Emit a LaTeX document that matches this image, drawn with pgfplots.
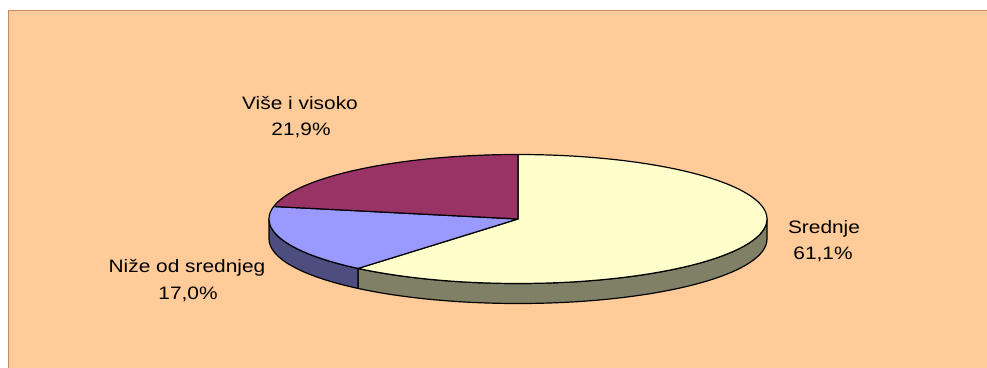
\documentclass[border=0pt]{standalone}
\usepackage{pgfplots}
\pgfplotsset{compat=1.18}
\usepackage{pgfplotstable}
\usepackage{graphicx}
\usepackage{fontspec}
\setmainfont{Liberation Sans}
\definecolor{bgpeach}{HTML}{FFCC99}
\definecolor{bordr}{HTML}{C8896A}
\definecolor{sredtop}{HTML}{FFFFCC}
\definecolor{sredside}{HTML}{808066}
\definecolor{nizetop}{HTML}{9999FF}
\definecolor{nizeside}{HTML}{4D4D80}
\definecolor{visetop}{HTML}{993366}

% shares in percent: Srednje, Nize od srednjeg, Vise i visoko
\pgfplotstableread{
share
61.1
17.0
21.9
}\piedata
\pgfplotstablegetelem{0}{share}\of\piedata \let\vA\pgfplotsretval
\pgfplotstablegetelem{1}{share}\of\piedata \let\vB\pgfplotsretval
\pgfplotstablegetelem{2}{share}\of\piedata \let\vC\pgfplotsretval
\pgfmathsetmacro{\aA}{90-3.6*\vA}
\pgfmathsetmacro{\aB}{\aA-3.6*\vB}
\pgfmathsetmacro{\aC}{\aB-3.6*\vC}

\newcommand\lbl[1]{\scalebox{1.16}[1]{\fontsize{18}{22}\selectfont #1}}

\begin{document}
\begin{tikzpicture}
\begin{axis}[x=1pt,y=1pt,xmin=0,xmax=987,ymin=0,ymax=367,
  hide axis,clip=false,anchor=south west,at={(0,0)},
  samples=120]
\fill[bgpeach] (axis cs:8.5,-3) rectangle (axis cs:990,356.5);
\draw[bordr, line width=1.6pt] (axis cs:8.5,-3) -- (axis cs:8.5,356.5) -- (axis cs:990,356.5);
% side walls
\addplot[fill=sredside, draw=black, line width=1.2pt, line join=round, domain=\aA:0]
  ({518+249*cos(x)},{148+64.5*sin(x)}) -- ++(0pt,-20pt)
  arc[start angle=0, end angle=\aA, x radius=249pt, y radius=64.5pt] -- cycle;
\addplot[fill=nizeside, draw=black, line width=1.2pt, line join=round, domain=-180:\aA]
  ({518+249*cos(x)},{148+64.5*sin(x)}) -- ++(0pt,-20pt)
  arc[start angle=\aA, end angle=-180, x radius=249pt, y radius=64.5pt] -- cycle;
% top faces
\addplot[fill=sredtop, draw=black, line width=1.2pt, line join=round, domain=\aA:90]
  ({518+249*cos(x)},{148+64.5*sin(x)}) -- (axis cs:518,148) -- cycle;
\addplot[fill=nizetop, draw=black, line width=1.2pt, line join=round, domain=\aB:\aA]
  ({518+249*cos(x)},{148+64.5*sin(x)}) -- (axis cs:518,148) -- cycle;
\addplot[fill=visetop, draw=black, line width=1.2pt, line join=round, domain=\aC:\aB]
  ({518+249*cos(x)},{148+64.5*sin(x)}) -- (axis cs:518,148) -- cycle;
% labels
\node[anchor=base, inner sep=0pt] at (axis cs:300,257) {\lbl{Više i visoko}};
\node[anchor=base, inner sep=0pt] at (axis cs:301,231) {\lbl{21,9\%}};
\node[anchor=base, inner sep=0pt] at (axis cs:187,95) {\lbl{Niže od srednjeg}};
\node[anchor=base, inner sep=0pt] at (axis cs:188,68) {\lbl{17,0\%}};
\node[anchor=base, inner sep=0pt] at (axis cs:824,134) {\lbl{Srednje}};
\node[anchor=base, inner sep=0pt] at (axis cs:823,108) {\lbl{61,1\%}};
\end{axis}
\pgfresetboundingbox
\path (0,0) rectangle (987pt,367pt);
\end{tikzpicture}
\end{document}
